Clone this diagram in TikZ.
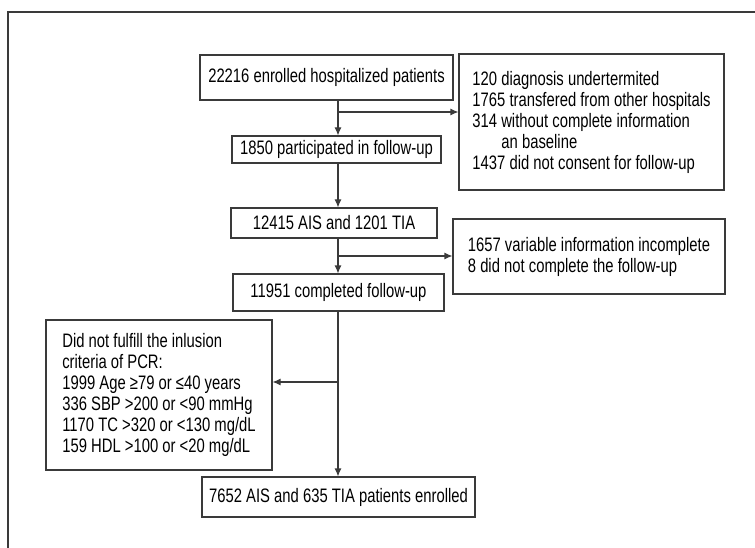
\documentclass[tikz,border=0pt]{standalone}
\usepackage{fontspec}
\setmainfont{Liberation Sans}[FakeStretch=0.76]
\usetikzlibrary{arrows.meta, positioning}
\definecolor{linegray}{HTML}{3A3A3A}

\begin{document}
\begin{tikzpicture}[x=1pt, y=-1pt, >={Latex[length=8pt, width=7pt]},
    box/.style={draw=linegray, line width=1.1pt, inner sep=0pt, font=\fontsize{19.5}{21}\selectfont},
    listbox/.style={box, align=left},
    arr/.style={->, draw=linegray, line width=1.1pt}]

\useasboundingbox (0,0) rectangle (755,548);

% outer frame, cut off at the right and bottom
\draw[linegray, line width=1.2pt] (755,12) -- (8,12) -- (8,548);

% main column
\node[box, minimum width=253pt, minimum height=45pt] (enrolled) at (326.5,77.5) {22216 enrolled hospitalized patients};
\node[box, minimum width=209pt, minimum height=27pt] (followup) at (336.5,149.5) {1850 participated in follow-up};
\node[box, minimum width=206pt, minimum height=30pt] (ais) at (334,223) {12415 AIS and 1201 TIA};
\node[box, minimum width=211pt, minimum height=37pt] (completed) at (338.5,292.5) {11951 completed follow-up};
\node[box, minimum width=273pt, minimum height=40pt] (final) at (338.5,497) {7652 AIS and 635 TIA patients enrolled};

% exclusion boxes
\node[listbox, minimum width=265pt, minimum height=136pt] (excl1) at (591.5,122)
    {120 diagnosis undertermited\\
     1765 transfered from other hospitals\\
     314 without complete information\\
     \hspace*{29pt}an baseline\\
     1437 did not consent for follow-up};
\node[listbox, minimum width=272pt, minimum height=75pt] (excl2) at (589,256.5)
    {1657 variable information incomplete\\
     8 did not complete the follow-up};
\node[listbox, minimum width=226pt, minimum height=150pt] (crit) at (159,395)
    {Did not fulfill the inlusion\\
     criteria of PCR:\\
     1999 Age ≥79 or ≤40 years\\
     336 SBP >200 or <90 mmHg\\
     1170 TC >320 or <130 mg/dL\\
     159 HDL >100 or <20 mg/dL};

% arrows down the spine
\coordinate (spine) at (338,0);
\draw[arr] (enrolled.south -| spine) -- (followup.north -| spine);
\draw[arr] (followup.south -| spine) -- (ais.north -| spine);
\draw[arr] (ais.south -| spine) -- (completed.north -| spine);
\draw[arr] (completed.south -| spine) -- (final.north -| spine);

% side branches
\coordinate (br1) at (338,112);
\coordinate (br2) at (338,256);
\coordinate (br3) at (338,382);
\draw[arr] (br1) -- (excl1.west |- br1);
\draw[arr] (br2) -- (excl2.west |- br2);
\draw[arr] (br3) -- (crit.east |- br3);

\end{tikzpicture}
\end{document}
